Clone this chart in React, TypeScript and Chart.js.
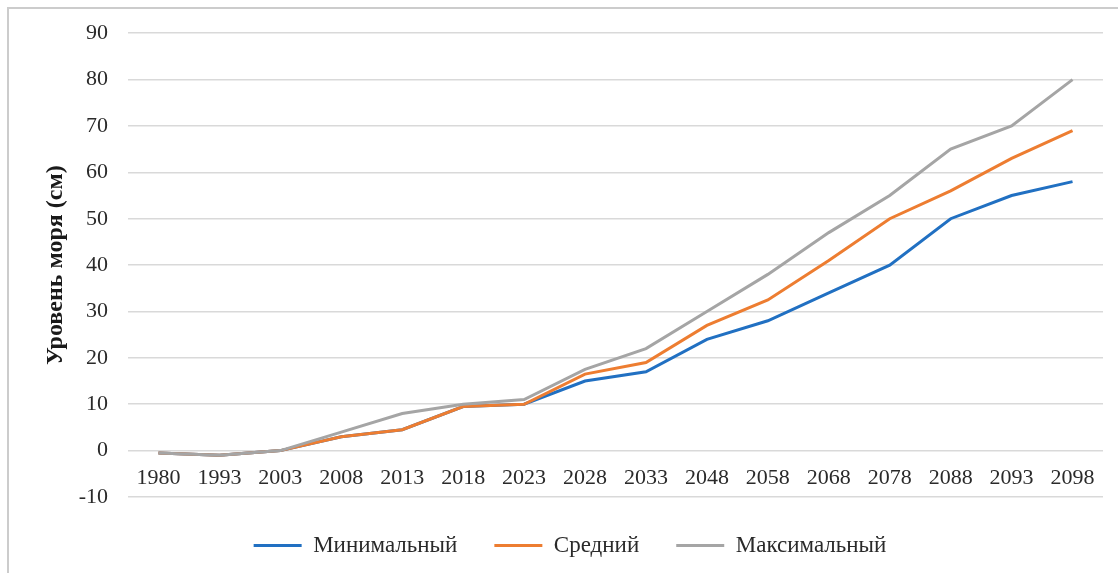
import React, { useEffect, useRef } from 'react';
import { Chart, registerables } from 'chart.js';

Chart.register(...registerables);

const categories = ['1980', '1993', '2003', '2008', '2013', '2018', '2023', '2028', '2033', '2048', '2058', '2068', '2078', '2088', '2093', '2098'];
const minValues = [-0.5, -1, 0, 3, 4.5, 9.5, 10, 15, 17, 24, 28, 34, 40, 50, 55, 58];
const midValues = [-0.5, -1, 0, 3, 4.5, 9.5, 10, 16.5, 19, 27, 32.5, 41, 50, 56, 63, 69];
const maxValues = [-0.5, -1, 0, 4, 8, 10, 11, 17.5, 22, 30, 38, 47, 55, 65, 70, 80];
const seriesNames = ['Минимальный', 'Средний', 'Максимальный'];
const seriesColors = ['#2170c2', '#ed7d31', '#a5a5a5'];
const yTitle = 'Уровень моря (см)';
const yMin = -10;
const yMax = 90;
const yStep = 10;

const FONT = '"Liberation Serif", "Times New Roman", serif';

export default function App() {
  const canvasRef = useRef<HTMLCanvasElement | null>(null);

  useEffect(() => {
    if (!canvasRef.current) return;
    const series = [minValues, midValues, maxValues];
    const chart = new Chart(canvasRef.current, {
      type: 'line',
      data: {
        labels: categories,
        datasets: series.map((vals, i) => ({
          label: seriesNames[i],
          data: vals,
          borderColor: seriesColors[i],
          backgroundColor: seriesColors[i],
          borderWidth: 3,
          pointRadius: 0,
          tension: 0,
          order: 3 - i,
        })),
      },
      options: {
        animation: false,
        responsive: false,
        maintainAspectRatio: false,
        layout: { padding: { left: 37, right: 15, top: 27, bottom: 6 } },
        scales: {
          x: {
            type: 'category',
            offset: true,
            position: { y: 0 } as any,
            grid: { display: false, drawTicks: false },
            border: { display: false },
            ticks: {
              padding: 14,
              maxRotation: 0,
              autoSkip: false,
              color: '#2a2a2a',
              font: { family: FONT, size: 22 },
            },
          },
          y: {
            min: yMin,
            max: yMax,
            grid: { color: '#d9d9d9', lineWidth: 1.5, drawTicks: false },
            border: { display: false },
            ticks: {
              stepSize: yStep,
              padding: 20,
              color: '#2a2a2a',
              font: { family: FONT, size: 22 },
            },
            title: {
              display: true,
              text: yTitle,
              color: '#1a1a1a',
              font: { family: FONT, size: 24, weight: 'bold' },
            },
            afterFit: (scale: any) => {
              scale.width = 91;
            },
          },
        },
        plugins: {
          legend: {
            position: 'bottom',
            labels: {
              boxWidth: 48,
              boxHeight: 3,
              padding: 37,
              color: '#2a2a2a',
              font: { family: FONT, size: 23 },
              sort: (a: any, b: any) => a.datasetIndex - b.datasetIndex,
              generateLabels: (c: any) => {
                const items = Chart.defaults.plugins.legend.labels.generateLabels(c);
                return items.map((it: any) => ({ ...it, lineWidth: 0, fillStyle: seriesColors[it.datasetIndex] }));
              },
            },
          },
          tooltip: { enabled: false },
        },
      },
    });
    return () => chart.destroy();
  }, []);

  return (
    <div style={{ position: 'absolute', left: 0, top: 0, width: 1118, height: 573, overflow: 'hidden', background: '#fff' }}>
      <div
        style={{
          position: 'absolute',
          left: 7,
          top: 7,
          width: 1200,
          height: 700,
          borderLeft: '2px solid #cccccc',
          borderTop: '2px solid #cccccc',
        }}
      />
      <canvas ref={canvasRef} width={1118} height={573} style={{ position: 'absolute', left: 0, top: 0 }} />
    </div>
  );
}
